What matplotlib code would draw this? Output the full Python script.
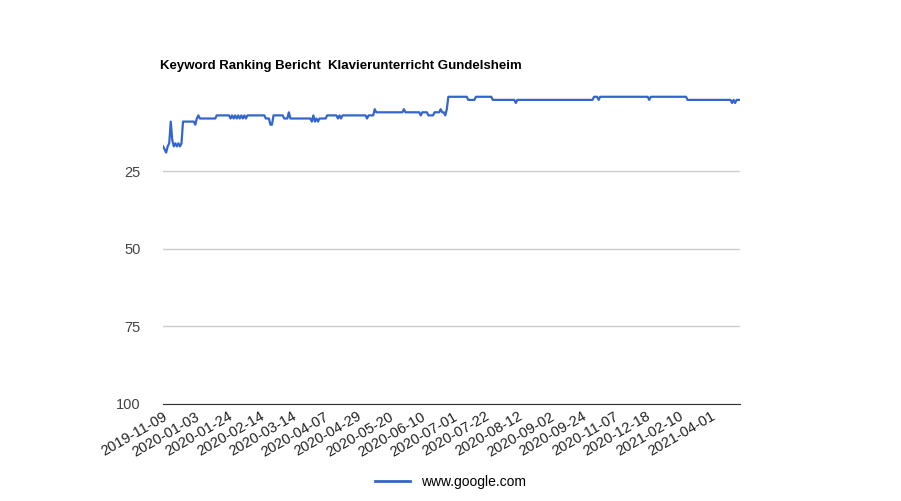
import matplotlib
matplotlib.use("Agg")
import matplotlib.pyplot as plt
from matplotlib.lines import Line2D

plt.rcParams['font.family'] = ['Liberation Sans', 'DejaVu Sans']

title = "Keyword Ranking Bericht  Klavierunterricht Gundelsheim"
series_name = "www.google.com"
# run-length encoded rankings: (rank, number of consecutive days)
runs = [(17,1),(18,1),(19,1),(17,1),(16,1),(9,1),(15,1),(17,1),(16,1),(17,1),(16,1),(17,1),(16,1),
        (9,8),(10,1),(8,1),(7,1),(8,11),(7,9),
        (8,1),(7,1),(8,1),(7,1),(8,1),(7,1),(8,1),(7,1),(8,1),(7,1),(8,1),(7,1),
        (7,11),(8,3),(10,2),(7,7),(8,3),(6,1),(8,14),(9,1),(7,1),(9,1),(8,1),(9,1),(8,5),
        (7,7),(8,1),(7,1),(8,1),(7,16),(8,1),(7,4),(5,1),(6,18),(5,1),(6,10),(7,1),(6,4),
        (7,4),(6,4),(5,1),(6,2),(7,1),(5,1),(1,13),(2,5),(1,11),(2,15),(3,1),(2,50),(1,3),
        (2,1),(1,32),(2,1),(1,24),(2,29),(3,1),(2,1),(3,1),(2,3)]
tick_labels = ["2019-11-09","2020-01-03","2020-01-24","2020-02-14","2020-03-14","2020-04-07",
               "2020-04-29","2020-05-20","2020-06-10","2020-07-01","2020-07-22","2020-08-12",
               "2020-09-02","2020-09-24","2020-11-07","2020-12-18","2021-02-10","2021-04-01"]
tick_step = 21
y_ticks = [25, 50, 75, 100]

values = []
for v, n in runs:
    values.extend([v] * n)
xs = list(range(len(values)))

fig = plt.figure(figsize=(9.01, 5.01), dpi=100)
ax = fig.add_axes([0.181, 0.194, 0.640, 0.619])
ax.plot(xs, values, color="#3366cc", lw=1.6)
ax.set_ylim(100, 0)
ax.set_xlim(0, len(values) - 1)
ax.set_yticks(y_ticks)
ax.set_yticklabels([str(t) for t in y_ticks], fontsize=10.5, color="#444444")
ax.yaxis.grid(True, color="#cccccc", lw=1)
ax.set_xticks([i * tick_step for i in range(len(tick_labels))])
ax.set_xticklabels(tick_labels)
ax.tick_params(length=0)
ax.tick_params(axis="x", pad=4)
ax.tick_params(axis="y", pad=16)
for lab in ax.get_xticklabels():
    lab.set_rotation(30)
    lab.set_ha("right")
    lab.set_rotation_mode("anchor")
    lab.set_fontsize(10.5)
    lab.set_color("#222222")
for s in ax.spines.values():
    s.set_visible(False)
ax.spines["bottom"].set_visible(True)
ax.spines["bottom"].set_color("#333333")
fig.text(0.178, 0.862, title, fontsize=9.5, fontweight="bold", color="#000000")
fig.legend([Line2D([0], [0], color="#3366cc", lw=2)], [series_name], loc="center",
           bbox_to_anchor=(0.5, 0.038), frameon=False, fontsize=10, handlelength=2.5)
fig.savefig("out.png", dpi=100)
